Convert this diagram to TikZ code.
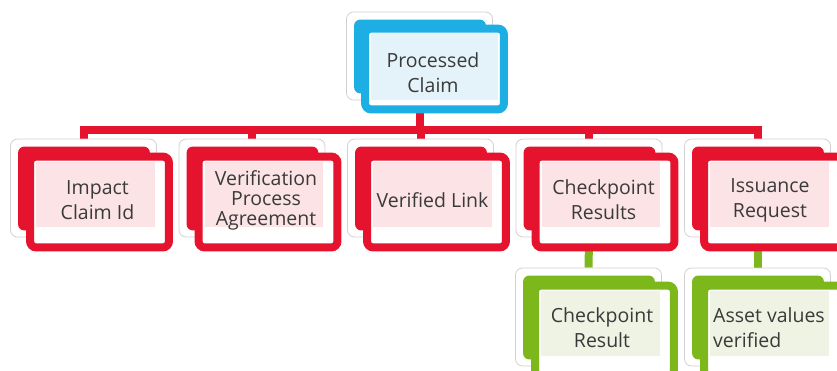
\documentclass[tikz,border=0pt]{standalone}
\usepackage{fontspec}
\setmainfont{Open Sans}
\usetikzlibrary{calc}
\pgfdeclarelayer{bg}
\pgfsetlayers{bg,main}
\definecolor{cred}{HTML}{E5132E}
\definecolor{cblue}{HTML}{1DAEE3}
\definecolor{cgreen}{HTML}{7CB71C}
\definecolor{lred}{HTML}{FBE3E6}
\definecolor{lblue}{HTML}{E4F3FA}
\definecolor{lgreen}{HTML}{EEF3E3}
\definecolor{txt}{HTML}{3A3A3A}
\tikzset{
  backbox/.style={draw=black!18, line width=0.8pt, fill=white, rounded corners=7pt,
    inner sep=0pt, minimum width=146pt},
  lbl/.style={text=txt, align=center, inner sep=0pt, font=\fontsize{19.5}{25}\selectfont},
  lbltight/.style={text=txt, align=center, inner sep=0pt, font=\fontsize{19.5}{20}\selectfont},
  redline/.style={draw=cred, line width=8pt},
  greenline/.style={draw=cgreen, line width=8pt},
}
\newcommand\SmartBox[6]{%
  \node[backbox, minimum height=#4pt] (#1) at (#2,#3) {};
  \fill[#5, rounded corners=6pt] ($(#1.north west)+(8,8)$) rectangle ($(#1.south east)+(-7,-7)$);
  \draw[#5, line width=8pt, fill=white, rounded corners=6pt] ($(#1.north west)+(20,18)$) rectangle ($(#1.south east)+(12,10)$);
  \fill[#6] ($(#1.north west)+(26,23)$) rectangle ($(#1.south east)+(-2,-10)$);
}
\begin{document}
\begin{tikzpicture}[x=1pt,y=-1pt]
\useasboundingbox (0,0) rectangle (837,370);
% parent
\node[backbox, minimum height=88pt] (pc) at (419.5,56) {};
\fill[cblue, rounded corners=6pt] ($(pc.north west)+(8,8)$) rectangle ($(pc.south east)+(-7,-7)$);
\draw[cblue, line width=8pt, fill=white, rounded corners=6pt] ($(pc.north west)+(19,17)$) rectangle ($(pc.south east)+(11,9)$);
\fill[lblue] ($(pc.north west)+(25,21)$) rectangle ($(pc.south east)+(5,0)$);
\node[lbl] (tpc) at (433,72.5) {Processed\\Claim};
% children
\SmartBox{c1}{83.5}{188}{98}{cred}{lred}
\SmartBox{c2}{252}{188}{98}{cred}{lred}
\SmartBox{c3}{420.5}{188}{98}{cred}{lred}
\SmartBox{c4}{589}{188}{98}{cred}{lred}
\SmartBox{c5}{757.5}{188}{98}{cred}{lred}
\SmartBox{g1}{588.5}{317}{98}{cgreen}{lgreen}
\SmartBox{g2}{757.5}{317}{98}{cgreen}{lgreen}
\node[lbl] (t1) at (97.5,200) {Impact\\Claim Id};
\node[lbltight] (t2) at (266,200) {Verification\\Process\\Agreement};
\node[lbl] (t3) at (432.5,200) {Verified Link};
\node[lbl] (t4) at (603.5,200) {Checkpoint\\Results};
\node[lbl] (t5) at (770,200) {Issuance\\Request};
\node[lbl] (t6) at (602,328) {Checkpoint\\Result};
\node[lbl, align=left, anchor=west] (t7) at (713,328) {Asset values\\verified};
% connectors
\begin{pgfonlayer}{bg}
\coordinate (busy) at (0,130);
\draw[redline] (pc) -- (pc |- busy) -| (c1);
\draw[redline] (pc) -- (pc |- busy) -| (c2);
\draw[redline] (pc) -- (pc |- busy) -| (c3);
\draw[redline] (pc) -- (pc |- busy) -| (c4);
\draw[redline] (pc) -- (pc |- busy) -| (c5);
\draw[greenline] (c4) -- (g1);
\draw[greenline] (c5) -- (g2);
\end{pgfonlayer}
\end{tikzpicture}
\end{document}
